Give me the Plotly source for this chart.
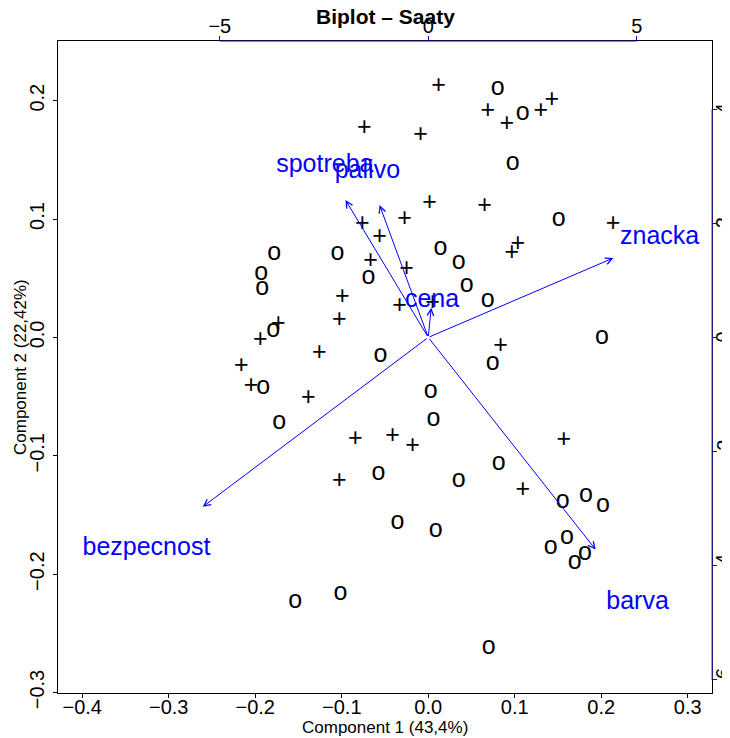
import plotly.graph_objects as go

# ---- scores (Component 1, Component 2), rows labelled "+" ----
plus_x = [0.0119, 0.0687, 0.1301, 0.1428, 0.0907, -0.0738, -0.0089, 0.0015, 0.0652, 0.2135,
          -0.0274, -0.0761, -0.0564, 0.1034, 0.0965, -0.0668, -0.0251, -0.0993, -0.0332, 0.0050,
          -0.1027, -0.1734, -0.1942, -0.1259, 0.0837, -0.2162, -0.2047, -0.1386, -0.0842, -0.0413,
          -0.0182, 0.1567, -0.1027, 0.1092]
plus_y = [0.2118, 0.1908, 0.1908, 0.2000, 0.1798, 0.1764, 0.1705, 0.1131, 0.1106, 0.0954,
          0.0996, 0.0954, 0.0845, 0.0785, 0.0710, 0.0642, 0.0575, 0.0338, 0.0262, 0.0288,
          0.0144, 0.0111, -0.0024, -0.0134, -0.0075, -0.0244, -0.0413, -0.0514, -0.0868, -0.0843,
          -0.0927, -0.0877, -0.1222, -0.1298]

# ---- scores, rows labelled "o" ----
circ_x = [0.0803, 0.1092, 0.0976, 0.1509, 0.0142, 0.0351, -0.1780, -0.1050, -0.0691, -0.1931,
          -0.1919, 0.0444, 0.0687, -0.1792, 0.2007, -0.0552, 0.0745, -0.1908, 0.0027, -0.1722,
          0.0061, -0.0576, 0.0351, 0.0814, 0.1555, 0.1822, 0.2019, -0.0356, 0.0085, 0.1602,
          0.1416, 0.1810, 0.1694, -0.1016, -0.1537, 0.0698]
circ_y = [0.2102, 0.1891, 0.1469, 0.0996, 0.0752, 0.0634, 0.0710, 0.0710, 0.0507, 0.0541,
          0.0414, 0.0440, 0.0313, 0.0060, 0.0001, -0.0151, -0.0219, -0.0429, -0.0463, -0.0725,
          -0.0699, -0.1155, -0.1214, -0.1071, -0.1391, -0.1341, -0.1425, -0.1568, -0.1636, -0.1695,
          -0.1779, -0.1830, -0.1906, -0.2167, -0.2235, -0.2623]

# ---- loadings (variables) ----
var_names = ["znacka", "barva", "bezpecnost", "spotreba", "palivo", "cena"]
load_x = [5.55, 5.02, -6.76, -2.48, -1.46, 0.09]
load_y = [1.74, -4.65, -3.71, 3.01, 2.90, 0.65]

# ---- axes ----
x_ticks = [-0.4, -0.3, -0.2, -0.1, 0.0, 0.1, 0.2, 0.3]
y_ticks = [-0.3, -0.2, -0.1, 0.0, 0.1, 0.2]
top_ticks = [-5, 0, 5]
right_ticks = [-6, -4, -2, 0, 2, 4]
xlim = [-0.4, 0.3]
ylim = [-0.28, 0.23]
ratio = 20.75
arrow_frac = 0.8

title_text = "Biplot – Saaty"
x_title = "Component 1 (43,4%)"
y_title = "Component 2 (22,42%)"

FONT = "Liberation Sans, Arial, sans-serif"
BLUE = "#0000FF"


def ext(lim, f=0.04):
    r = lim[1] - lim[0]
    return [lim[0] - f * r, lim[1] + f * r]


def fmt(v, nd):
    s = ("%." + str(nd) + "f") % abs(v)
    return ("−" if v < 0 else "") + s


xr = ext(xlim)
yr = ext(ylim)
xr2 = [v * ratio for v in xr]
yr2 = [v * ratio for v in yr]

# the page body adds an 8px offset; the figure is sized so it fits the window
FIG_W, FIG_H = 722, 730
ML, MR, MT, MB = 50, 18, 33, 45
PLOT_W = float(FIG_W - ML - MR)
PLOT_H = float(FIG_H - MT - MB)

fig = go.Figure()

fig.add_trace(go.Scatter(x=plus_x, y=plus_y, mode="text", text=["+"] * len(plus_x),
                         textposition="middle center", textfont=dict(family=FONT, size=25, color="black"),
                         xaxis="x", yaxis="y", showlegend=False, hoverinfo="skip", cliponaxis=False))
fig.add_trace(go.Scatter(x=circ_x, y=circ_y, mode="text", text=["o"] * len(circ_x),
                         textposition="middle center", textfont=dict(family=FONT, size=25, color="black"),
                         xaxis="x", yaxis="y", showlegend=False, hoverinfo="skip", cliponaxis=False))

fig.add_trace(go.Scatter(x=load_x, y=load_y, mode="text", text=var_names,
                         textposition="middle center", textfont=dict(family=FONT, size=25, color=BLUE),
                         xaxis="x2", yaxis="y2", showlegend=False, hoverinfo="skip", cliponaxis=False))

annotations = []
for lx, ly in zip(load_x, load_y):
    annotations.append(dict(x=lx * arrow_frac, y=ly * arrow_frac, ax=0, ay=0,
                            xref="x2", yref="y2", axref="x2", ayref="y2",
                            text="", showarrow=True, arrowhead=5, arrowsize=1.3,
                            arrowwidth=1, arrowcolor=BLUE, standoff=0, startstandoff=0))

# right-axis tick labels (loadings scale), rotated like R's las=0
for t in right_ticks:
    annotations.append(dict(text=fmt(t, 0), x=1 + 11 / PLOT_W, xref="paper", xanchor="center",
                            y=t, yref="y2", yanchor="middle", showarrow=False, textangle=-90,
                            font=dict(family=FONT, size=20, color="black")))

# main title, centred over the plot region
annotations.append(dict(text="<b>" + title_text + "</b>", x=0.5, xref="paper", xanchor="center",
                        y=1 + 24 / PLOT_H, yref="paper", yanchor="middle", showarrow=False,
                        font=dict(family=FONT, size=21, color="black")))
# axis titles
annotations.append(dict(text=x_title, x=0.5, xref="paper", xanchor="center",
                        y=-34 / PLOT_H, yref="paper", yanchor="middle", showarrow=False,
                        font=dict(family=FONT, size=17, color="black")))
annotations.append(dict(text=y_title, x=-38 / PLOT_W, xref="paper", xanchor="center",
                        y=0.5, yref="paper", yanchor="middle", showarrow=False, textangle=-90,
                        font=dict(family=FONT, size=17, color="black")))

shapes = [
    dict(type="line", xref="x2", yref="paper", x0=top_ticks[0], x1=top_ticks[-1], y0=1, y1=1,
         line=dict(color="#1a1a8a", width=1.2)),
    dict(type="line", xref="paper", yref="y2", x0=1, x1=1, y0=right_ticks[0], y1=right_ticks[-1],
         line=dict(color="#3a3aff", width=1)),
]

axis_common = dict(showgrid=False, zeroline=False, ticks="outside", ticklen=4, tickwidth=1,
                   automargin=False,
                   tickfont=dict(family=FONT, size=20, color="black"))

fig.update_layout(
    width=FIG_W, height=FIG_H, autosize=False,
    margin=dict(l=ML, r=MR, t=MT, b=MB, pad=0, autoexpand=False),
    paper_bgcolor="white", plot_bgcolor="white",
    font=dict(family=FONT, color="black"),
    annotations=annotations, shapes=shapes,
    xaxis=dict(range=xr, tickvals=x_ticks, ticktext=[fmt(v, 1) for v in x_ticks],
               showline=True, linecolor="black", linewidth=1.2, mirror=True, tickcolor="black",
               ticklabelstandoff=-8, **axis_common),
    yaxis=dict(range=yr, tickvals=y_ticks, ticktext=[fmt(v, 1) for v in y_ticks],
               showline=True, linecolor="black", linewidth=1.2, mirror=True, tickcolor="black",
               tickangle=-90, ticklabelstandoff=1, **axis_common),
    xaxis2=dict(range=xr2, tickvals=top_ticks, ticktext=[fmt(v, 0) for v in top_ticks],
                overlaying="x", side="top", anchor="y", showline=False, tickcolor=BLUE,
                ticklabelstandoff=-5, **axis_common),
    yaxis2=dict(range=yr2, tickvals=right_ticks, showticklabels=False,
                overlaying="y", side="right", anchor="x", showline=False, tickcolor=BLUE,
                **axis_common),
)

fig.write_html("out.html")
